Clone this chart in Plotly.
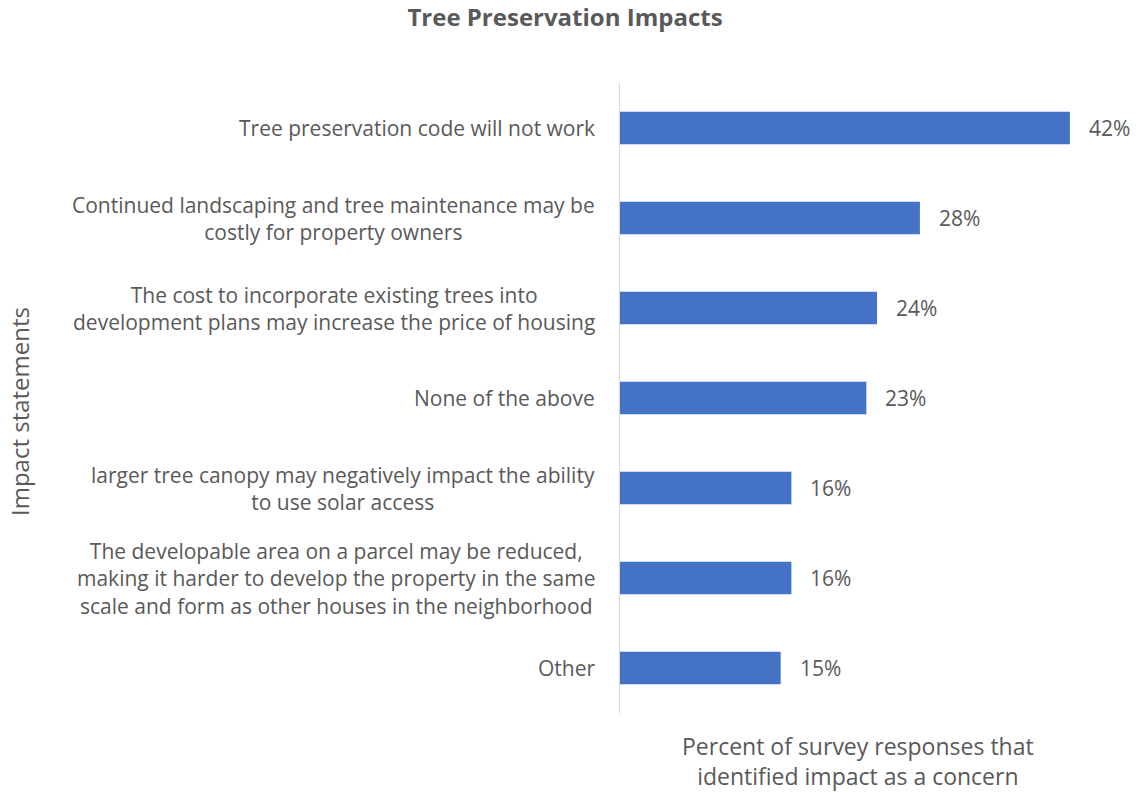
import plotly.graph_objects as go

# Survey results: share of responses flagging each impact as a concern
statements = [
    "Tree preservation code will not work",
    "Continued landscaping and tree maintenance may be<br>costly for property owners",
    "The cost to incorporate existing trees into<br>development plans may increase the price of housing",
    "None of the above",
    "larger tree canopy may negatively impact the ability<br>to use solar access",
    "The developable area on a parcel may be reduced,<br>making it harder to develop the property in the same<br>scale and form as other houses in the neighborhood",
    "Other",
]
percents = [42, 28, 24, 23, 16, 16, 15]

BAR = "#4472C4"
TEXT = "#595959"
FONT = "'Open Sans', Lato, sans-serif"

L, R, T, B = 620, 34, 83, 79
PLOT_W = 1136 - L - R
PLOT_H = 792 - T - B

cats = [f"c{i}" for i in range(len(statements))]

fig = go.Figure(
    go.Bar(
        x=percents,
        y=cats,
        orientation="h",
        marker=dict(color=BAR, line=dict(width=0)),
        hoverinfo="skip",
    )
)

annotations = []
# Category labels, each line centred, block right-aligned against the axis
for c, s in zip(cats, statements):
    annotations.append(dict(
        x=0, xref="paper", y=c, yref="y",
        text=s, showarrow=False, xanchor="right", yanchor="middle",
        align="center", xshift=-23,
        font=dict(family=FONT, size=21, color=TEXT),
    ))
# Value labels beside each bar
for c, v in zip(cats, percents):
    annotations.append(dict(
        x=v, xref="x", y=c, yref="y",
        text=f"{v}%", showarrow=False, xanchor="left", yanchor="middle",
        xshift=17,
        font=dict(family=FONT, size=21, color=TEXT),
    ))
# Axis titles
annotations.append(dict(
    x=(20 - L) / PLOT_W, xref="paper", y=0.5 - 14 / PLOT_H, yref="paper",
    xanchor="center", yanchor="middle",
    text="Impact statements", showarrow=False, textangle=-90,
    font=dict(family=FONT, size=24, color=TEXT),
))
annotations.append(dict(
    x=(858 - L) / PLOT_W, xref="paper", y=0, yref="paper",
    yanchor="top", yshift=-15,
    text="Percent of survey responses that<br>identified impact as a concern",
    showarrow=False, align="center",
    font=dict(family=FONT, size=23, color=TEXT),
))

fig.update_layout(
    width=1136, height=792,
    margin=dict(l=L, r=R, t=T, b=B),
    paper_bgcolor="white", plot_bgcolor="white",
    bargap=0.64,
    showlegend=False,
    title=dict(
        text="<b>Tree Preservation Impacts</b>",
        x=565 / 1136, xanchor="center", y=1 - 18 / 792, yanchor="middle",
        font=dict(family=FONT, size=24, color=TEXT),
    ),
    xaxis=dict(
        range=[0, 45], showgrid=False, zeroline=False,
        showticklabels=False, ticks="", showline=False, fixedrange=True,
    ),
    yaxis=dict(
        categoryorder="array", categoryarray=cats, autorange="reversed",
        showticklabels=False, ticks="", showgrid=False, zeroline=False,
        showline=True, linecolor="#D9D9D9", linewidth=1,
    ),
    annotations=annotations,
)

fig.write_html("out.html")
